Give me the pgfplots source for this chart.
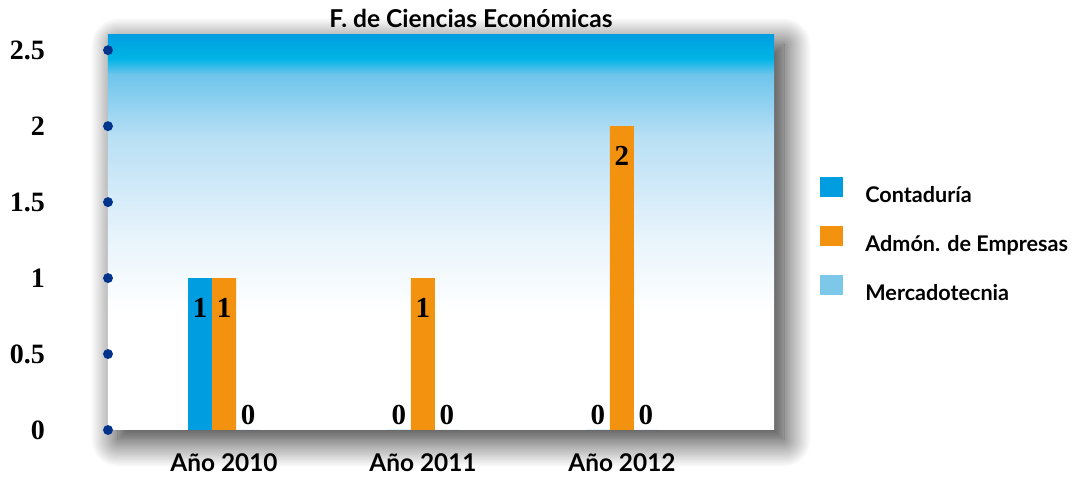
\documentclass[border=0pt]{standalone}
\usepackage{pgfplots}
\pgfplotsset{compat=1.18}
\usepackage{fontspec}
\setmainfont{Liberation Serif}
\newfontfamily\lato{Lato}
\usetikzlibrary{shadows.blur}
\definecolor{cont}{RGB}{0,158,224}
\definecolor{adm}{RGB}{243,146,14}
\definecolor{merc}{RGB}{125,200,232}
\definecolor{dotc}{RGB}{0,52,140}
\definecolor{g0}{RGB}{0,158,224}
\definecolor{g1}{RGB}{0,181,230}
\definecolor{g2}{RGB}{110,197,236}
\definecolor{g3}{RGB}{185,224,245}
\definecolor{g4}{RGB}{230,243,251}
\pgfdeclareverticalshading{bgshade}{100bp}{color(0bp)=(white); color(40bp)=(white); color(50bp)=(g4); color(62bp)=(g3); color(70bp)=(g2); color(72bp)=(g1); color(75bp)=(g0); color(100bp)=(g0)}
\begin{document}
\begin{tikzpicture}
\begin{axis}[
  scale only axis, width=333pt, height=197.5pt,
  xmin=-0.583, xmax=2.764, ymin=0, ymax=2.6,
  ybar=0pt, bar width=12pt,
  /pgf/number format/assume math mode=true,
  xtick={0,1,2}, xticklabels={Año 2010, Año 2011, Año 2012},
  ytick={0,0.5,1,1.5,2,2.5},
  yticklabels={0,0.5,1,1.5,2,2.5},
  axis line style={draw=none}, major tick length=0pt,
  yticklabel style={font=\bfseries\fontsize{14}{16}\selectfont, anchor=east, xshift=-28pt},
  xticklabel style={font=\lato\bfseries\fontsize{12.2}{14}\selectfont, anchor=base, yshift=-21pt},
  title={F. de Ciencias Económicas},
  title style={font=\lato\bfseries\fontsize{12.3}{14}\selectfont, at={(0.545,1)}, anchor=base, yshift=-2.5pt},
  axis background/.style={shading=bgshade, blur shadow={shadow xshift=5pt, shadow yshift=-5pt, shadow blur radius=13.5pt, shadow opacity=85, shadow blur steps=25}},
  legend style={at={(1,0.484)}, anchor=west, xshift=23pt, draw=none, fill=none, inner sep=0pt,
    font=\lato\bfseries\fontsize{10.8}{12}\selectfont, column sep=11pt, row sep=12pt,
    nodes={inner sep=0pt, text height=7.5pt, text depth=0pt}},
  legend cell align=left,
  legend image code/.code={\fill[#1, draw=none] (0pt,-1.3pt) rectangle (11.5pt,8.7pt);},
  clip=false,
  vals/.style={nodes near coords, visualization depends on={rawy \as \rawy},
    every node near coord/.append style={anchor=center, font=\bfseries\fontsize{14.5}{16}\selectfont, text=black,
      yshift={ifthenelse(\rawy>0.5,-15,7.5)}}},
]
\addplot[fill=cont, draw=none, vals] coordinates {(0,1) (1,0) (2,0)};
\addlegendentry{Contaduría}
\addplot[fill=adm, draw=none, vals] coordinates {(0,1) (1,1) (2,2)};
\addlegendentry{Admón. de Empresas}
\addplot[fill=merc, draw=none, vals] coordinates {(0,0) (1,0) (2,0)};
\addlegendentry{Mercadotecnia}
\addplot[sharp plot, only marks, mark=*, mark size=2.25pt, color=dotc, mark options={draw=dotc, fill=dotc}, forget plot]
  coordinates {(-0.583,0) (-0.583,0.5) (-0.583,1) (-0.583,1.5) (-0.583,2) (-0.583,2.5)};
\path (rel axis cs:0,0) ++(-54pt,-25.5pt) coordinate (bbsw);
\path (rel axis cs:1,1) ++(151pt,17.5pt) coordinate (bbne);
\end{axis}
\pgfresetboundingbox
\path[use as bounding box] (bbsw) rectangle (bbne);
\end{tikzpicture}
\end{document}
